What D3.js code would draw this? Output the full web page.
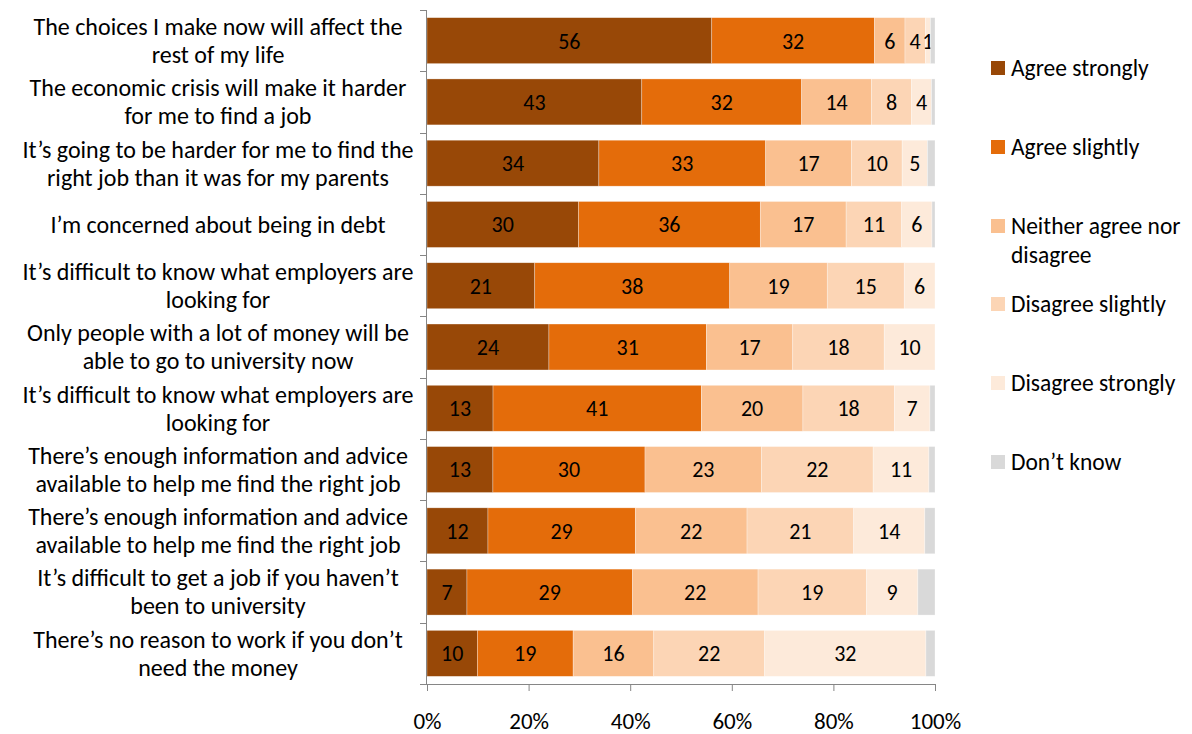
<!DOCTYPE html>
<html>
<head>
<meta charset="utf-8">
<script src="https://cdn.jsdelivr.net/npm/d3@7"></script>
<style>
  html, body { margin: 0; padding: 0; background: #fff; }
  svg { display: block; font-family: Carlito, Lato, "Open Sans", sans-serif; }
</style>
</head>
<body>
<svg id="chart" width="1192" height="734"></svg>
<script>
// Survey statements (each entry is one label, split into its display lines)
const statements = [
  ["The choices I make now will affect the", "rest of my life"],
  ["The economic crisis will make it harder", "for me to find a job"],
  ["It\u2019s going to be harder for me to find the", "right job than it was for my parents"],
  ["I\u2019m concerned about being in debt"],
  ["It\u2019s difficult to know what employers are", "looking for"],
  ["Only people with a lot of money will be", "able to go to university now"],
  ["It\u2019s difficult to know what employers are", "looking for"],
  ["There\u2019s enough information and advice", "available to help me find the right job"],
  ["There\u2019s enough information and advice", "available to help me find the right job"],
  ["It\u2019s difficult to get a job if you haven\u2019t", "been to university"],
  ["There\u2019s no reason to work if you don\u2019t", "need the money"]
];

const responses = ["Agree strongly", "Agree slightly", "Neither agree nor disagree",
                   "Disagree slightly", "Disagree strongly", "Don\u2019t know"];

// Percentages per response, one value per statement
const agreeStrongly    = [56, 43, 34, 30, 21, 24, 13, 13, 12, 7, 10];
const agreeSlightly    = [32, 32, 33, 36, 38, 31, 41, 30, 29, 29, 19];
const neither          = [6, 14, 17, 17, 19, 17, 20, 23, 22, 22, 16];
const disagreeSlightly = [4, 8, 10, 11, 15, 18, 18, 22, 21, 19, 22];
const disagreeStrongly = [1, 4, 5, 6, 6, 10, 7, 11, 14, 9, 32];
const dontKnow         = [0.9, 0.7, 1.5, 0.6, 0, 0, 1, 1.2, 2, 3, 1.8];

const tickValues = [0, 0.2, 0.4, 0.6, 0.8, 1];

const colors = ["#984807", "#E46C0A", "#FAC090", "#FCD5B5", "#FDEADA", "#D9D9D9"];
const labelled = [true, true, true, true, true, false];

const seriesValues = [agreeStrongly, agreeSlightly, neither, disagreeSlightly, disagreeStrongly, dontKnow];
const rows = statements.map((s, i) => {
  const r = { idx: i };
  responses.forEach((k, j) => { r[k] = seriesValues[j][i]; });
  return r;
});

const svg = d3.select("#chart");
const margin = { left: 427, right: 257, top: 10, bottom: 50 };
const W = 1192, H = 734;

const x = d3.scaleLinear().domain([0, 1]).range([margin.left, W - margin.right]);
const y = d3.scaleBand().domain(d3.range(statements.length))
  .range([margin.top, H - margin.bottom]).paddingInner(0.25).paddingOuter(0.125);

const stack = d3.stack().keys(responses).offset(d3.stackOffsetExpand);
const layers = stack(rows);

const g = svg.append("g");
layers.forEach((layer, j) => {
  const lg = g.append("g");
  lg.selectAll("rect").data(layer).join("rect")
    .attr("x", d => x(d[0]))
    .attr("y", d => y(d.data.idx))
    .attr("width", d => Math.max(0, x(d[1]) - x(d[0])))
    .attr("height", y.bandwidth())
    .attr("fill", colors[j])
    .attr("stroke", "#ffffff")
    .attr("stroke-opacity", 0.5)
    .attr("stroke-width", 0.6);
  if (labelled[j]) {
    lg.selectAll("text").data(layer.filter(d => d.data[responses[j]] > 0)).join("text")
      .attr("x", d => (x(d[0]) + x(d[1])) / 2)
      .attr("y", d => y(d.data.idx) + y.bandwidth() / 2)
      .attr("dy", "0.36em")
      .attr("text-anchor", "middle")
      .attr("font-size", 22)
      .attr("fill", "#000")
      .text(d => d.data[responses[j]]);
  }
});

// Category axis
const yAxisG = svg.append("g");
yAxisG.append("line")
  .attr("x1", x(0) - 0.5).attr("x2", x(0) - 0.5)
  .attr("y1", margin.top).attr("y2", H - margin.bottom)
  .attr("stroke", "#868686").attr("stroke-width", 1);
const bounds = d3.range(statements.length + 1).map(i => margin.top + i * y.step());
yAxisG.selectAll("line.tick").data(bounds).join("line")
  .attr("class", "tick")
  .attr("x1", x(0) - 7).attr("x2", x(0))
  .attr("y1", d => Math.round(d) + 0.5).attr("y2", d => Math.round(d) + 0.5)
  .attr("stroke", "#868686");

const labelX = 218, lineH = 28;
statements.forEach((lines, i) => {
  const cy = y(i) + y.bandwidth() / 2;
  const t = svg.append("text")
    .attr("text-anchor", "middle")
    .attr("font-size", 24)
    .attr("fill", "#000");
  lines.forEach((ln, k) => {
    t.append("tspan")
      .attr("x", labelX)
      .attr("y", cy + (k - (lines.length - 1) / 2) * lineH)
      .attr("dy", "0.35em")
      .text(ln);
  });
});

// Percentage axis
const xAxis = d3.axisBottom(x).tickValues(tickValues)
  .tickFormat(d3.format(".0%")).tickSize(7).tickSizeOuter(7).tickPadding(22);
const xg = svg.append("g")
  .attr("transform", `translate(0,${H - margin.bottom})`)
  .call(xAxis);
xg.select(".domain").attr("stroke", "#868686");
xg.selectAll(".tick line").attr("stroke", "#868686");
xg.selectAll(".tick text").attr("font-size", 23).attr("fill", "#000")
  .attr("font-family", "Carlito, Lato, 'Open Sans', sans-serif");

// Legend
const legendY = [68, 147, 226, 304, 383, 462];
const legendLines = [["Agree strongly"], ["Agree slightly"], ["Neither agree nor", "disagree"],
                     ["Disagree slightly"], ["Disagree strongly"], ["Don\u2019t know"]];
const leg = svg.append("g");
responses.forEach((r, j) => {
  leg.append("rect")
    .attr("x", 991).attr("y", legendY[j] - 7)
    .attr("width", 14).attr("height", 14)
    .attr("fill", colors[j]);
  const t = leg.append("text").attr("font-size", 23.5).attr("fill", "#000");
  legendLines[j].forEach((ln, k) => {
    t.append("tspan").attr("x", 1011).attr("y", legendY[j] + k * 29)
      .attr("dy", "0.35em").text(ln);
  });
});
</script>
</body>
</html>
